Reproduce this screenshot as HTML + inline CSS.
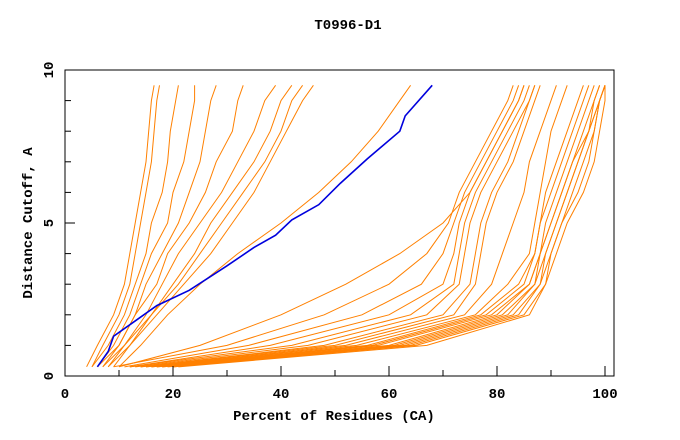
<!DOCTYPE html>
<html><head><meta charset="utf-8"><style>
body{margin:0;background:#fff}
svg{display:block}
text{font-family:"Liberation Mono",monospace;font-weight:bold;font-size:14px;fill:#000}
</style></head><body>
<svg id="chart" width="680" height="440" viewBox="0 0 680 440">
<text x="348" y="29" text-anchor="middle">T0996-D1</text>
<g id="plot"></g>
<g id="axes"></g>
<text x="334" y="420" text-anchor="middle">Percent of Residues (CA)</text>
<text transform="translate(32,223) rotate(-90)" text-anchor="middle">Distance Cutoff, A</text>
</svg>
<script>
const levels=[0.3,1,2,3,4,5,6,7,8,9,9.5];
const groupA=[
[4,6,9,11,12,13,14,15,15.5,16,16.5],
[5,7,10,12,13,14,15,16,16.5,17,17.5],
[5,8,11,13,15,16,18,19,19.5,20.5,21],
[6,9,12,14,16,19,20,22,23,24,24],
[6,10,13,15,18,21,23,25,26,27,28],
[7,10,13,17,19,23,26,28,31,32,33],
[7,11,15,18,21,25,29,32,35,37,39],
[8,11,16,20,24,27,31,35,38,40,42],
[8,12,16,21,25,29,33,37,40,42,44],
[9,12,17,22,27,31,35,38,41,44,46],
[10,14,19,25,32,40,47,53,58,62,64]
];
const groupB=[
[10,25,40,52,62,70,75,78,81,84,85],
[9,30,48,60,67,71,73,76,79,82,83],
[11,34,55,66,70,72,74,77,80,83,84],
[12,38,60,70,72,73,75,78,81,84,85],
[12,42,64,72,73,74,76,79,82,85,86],
[13,45,67,73,74,75,77,80,83,86,87],
[14,48,70,75,76,77,79,82,84,86,87],
[14,50,72,76,77,78,80,83,85,87,88],
[15,52,74,79,81,83,85,86,88,90,91],
[15,54,76,82,86,87,88,89,90,92,93],
[16,56,77,84,87,88,89,91,93,95,96],
[16,57,78,85,87,88,90,92,94,96,97],
[17,58,79,86,88,89,91,93,95,97,98],
[17,60,80,86,88,90,92,94,96,98,99],
[18,61,81,87,88,90,92,94,97,98,99],
[18,62,82,87,89,91,93,95,97,99,100],
[19,63,83,88,89,91,93,95,97,99,100],
[20,64,84,88,90,92,94,96,98,99,100],
[20,65,85,89,90,92,95,97,98,99,100],
[21,67,86,89,91,93,96,98,99,100,100]
];
const blueX=[6,8,9,13,17,23,30,35,39,42,47,51,56,62,63,68];
const blueY=[0.3,0.8,1.3,1.8,2.3,2.8,3.6,4.2,4.6,5.1,5.6,6.3,7.1,8.0,8.5,9.5];
const xTicks=[0,20,40,60,80,100];
const yTicks=[0,5,10];
const L=65,T=70,R=614,B=376;
const xs=v=>L+v*5.4, ys=v=>B-v*(B-T)/10;
const NS='http://www.w3.org/2000/svg';
const plot=document.getElementById('plot'),axes=document.getElementById('axes');
function line(xarr,yarr,color,w,name){
  const p=document.createElementNS(NS,'polyline');
  p.setAttribute('points',xarr.map((x,i)=>xs(x)+','+ys(yarr[i])).join(' '));
  p.setAttribute('fill','none');p.setAttribute('stroke',color);p.setAttribute('stroke-width',w);
  
  
  plot.appendChild(p);
}
groupA.forEach((s,i)=>line(s,levels,'#ff8000',1,'model-line-a'+i));
groupB.forEach((s,i)=>line(s,levels,'#ff8000',1,'model-line-b'+i));
line(blueX,blueY,'#0000dd',1.6,'target-line');
const fr=document.createElementNS(NS,'rect');
fr.setAttribute('x',L);fr.setAttribute('y',T);fr.setAttribute('width',R-L);fr.setAttribute('height',B-T);
fr.setAttribute('fill','none');fr.setAttribute('stroke','#000');


axes.appendChild(fr);
for(let v=0;v<=100;v+=10){
  const t=document.createElementNS(NS,'line');
  t.setAttribute('x1',xs(v));t.setAttribute('x2',xs(v));t.setAttribute('y1',B);t.setAttribute('y2',B-(v%20?6:10));
  t.setAttribute('stroke','#000');
  
  
  axes.appendChild(t);
}
for(let v=0;v<=10;v++){
  const t=document.createElementNS(NS,'line');
  t.setAttribute('y1',ys(v));t.setAttribute('y2',ys(v));t.setAttribute('x1',L);t.setAttribute('x2',L+(v%5?6:10));
  t.setAttribute('stroke','#000');
  
  
  axes.appendChild(t);
}
xTicks.forEach(v=>{
  const t=document.createElementNS(NS,'text');
  t.setAttribute('x',xs(v));t.setAttribute('y',398);t.setAttribute('text-anchor','middle');t.textContent=v;
  
  
  axes.appendChild(t);
});
yTicks.forEach(v=>{
  const t=document.createElementNS(NS,'text');
  t.setAttribute('transform','translate(53,'+ys(v)+') rotate(-90)');t.setAttribute('text-anchor','middle');t.textContent=v;
  
  
  axes.appendChild(t);
});
</script>
</body></html>
